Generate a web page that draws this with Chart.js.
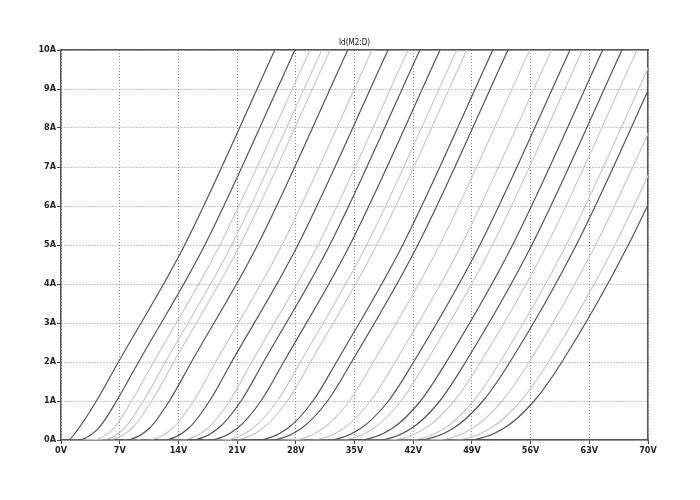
<!DOCTYPE html>
<html lang="en">
<head>
  <meta charset="UTF-8" />
  <title>Id(M2:D)</title>
  <script src="https://cdn.jsdelivr.net/npm/chart.js"></script>
  <style>
    html, body { margin: 0; padding: 0; background: #fff; }
    #wrap { width: 700px; height: 500px; }
  </style>
</head>
<body>
  <div id="wrap"><canvas id="idChart" width="700" height="500"></canvas></div>

  <script>
    const traceName = 'Id(M2:D)';
    const voltTicks = [0, 7, 14, 21, 28, 35, 42, 49, 56, 63, 70];
    const ampTicks = [0, 1, 2, 3, 4, 5, 6, 7, 8, 9, 10];

    const ampLevels = [0, 0, 0.3, 1, 2, 5, 10];
    // one row per stepped trace: volts at each of ampLevels (first = where the flat part begins)
    const traceVolts = [
      [0.0, 0.80, 2.10, 4.22, 6.85, 14.75, 25.5],
      [0.0, 1.88, 4.46, 6.62, 9.25, 17.15, 27.9],
      [1.2, 3.68, 6.26, 8.42, 11.05, 18.95, 29.7],
      [2.3, 4.82, 7.55, 9.82, 12.45, 20.35, 31.1],
      [3.0, 5.56, 8.44, 10.82, 13.45, 21.35, 32.1],
      [5.0, 7.66, 10.54, 12.92, 15.55, 23.45, 34.2],
      [7.5, 10.29, 13.31, 15.81, 18.45, 26.35, 37.1],
      [9.5, 12.19, 15.21, 17.71, 20.35, 28.25, 39.0],
      [11.5, 14.33, 17.49, 20.10, 22.75, 30.65, 41.4],
      [13.0, 15.47, 18.76, 21.47, 24.15, 32.05, 42.8],
      [15.0, 17.61, 21.02, 23.84, 26.55, 34.45, 45.2],
      [17.0, 19.34, 22.87, 25.79, 28.55, 36.45, 47.2],
      [18.0, 20.54, 24.07, 26.99, 29.75, 37.65, 48.4],
      [20.5, 23.38, 27.03, 30.04, 32.85, 40.75, 51.5],
      [22.0, 24.92, 28.68, 31.78, 34.65, 42.55, 53.3],
      [24.5, 27.52, 31.28, 34.38, 37.25, 45.15, 55.9],
      [27.0, 29.85, 33.72, 36.91, 39.85, 47.75, 58.5],
      [29.0, 31.79, 35.76, 39.04, 42.05, 49.95, 60.7],
      [30.5, 33.29, 37.26, 40.54, 43.55, 51.45, 62.2],
      [33.0, 35.43, 39.51, 42.87, 45.95, 53.85, 64.6],
      [35.0, 37.73, 41.81, 45.17, 48.25, 56.15, 66.9],
      [36.5, 39.26, 43.44, 46.89, 50.05, 57.95, 68.7],
      [39.0, 41.56, 45.74, 49.19, 52.35, 60.25, 71.0],
      [40.0, 42.50, 46.78, 50.31, 53.54, 61.45, 72.2],
      [42.0, 44.80, 49.08, 52.61, 55.84, 63.75, 74.5],
      [44.0, 46.84, 51.21, 54.82, 58.13, 66.05, 76.8],
      [45.5, 48.44, 52.81, 56.42, 59.73, 67.65, 78.4]
    ];
    const traceTone = [
      'dark', 'dark', 'light', 'light', 'light', 'dark', 'light', 'dark', 'light',
      'dark', 'dark', 'light', 'light', 'dark', 'dark', 'light', 'light', 'dark',
      'light', 'dark', 'dark', 'light', 'light', 'dark', 'light', 'light', 'dark'
    ];

    const toneColor = { dark: '#555555', light: '#c9c9c9' };
    const labelFont = { family: 'DejaVu Sans Condensed', size: 9, weight: 'bold' };

    const datasets = traceVolts.map((row, i) => ({
      data: row.map((v, k) => ({ x: v, y: ampLevels[k] })).filter((p, k) => k > 0 || row[0] < row[1]),
      borderColor: toneColor[traceTone[i]],
      borderWidth: 1.2,
      pointRadius: 0,
      fill: false,
      cubicInterpolationMode: 'monotone',
      clip: 0,
      order: traceTone[i] === 'dark' ? 0 : 1,
      parsing: false
    }));

    new Chart(document.getElementById('idChart'), {
      type: 'line',
      data: { datasets: datasets },
      options: {
        responsive: false,
        animation: false,
        events: [],
        layout: { padding: { left: 0, right: 52, top: 0, bottom: 40 } },
        plugins: { legend: { display: false }, tooltip: { enabled: false } },
        scales: {
          x: {
            type: 'linear',
            min: 0,
            max: 70,
            afterBuildTicks: s => { s.ticks = voltTicks.map(v => ({ value: v })); },
            afterFit: s => { s.height = 20; },
            grid: { color: '#8c8c8c', lineWidth: 1, tickLength: 4, tickColor: '#444' },
            border: { color: '#555', width: 1.5, dash: [1, 2] },
            ticks: {
              callback: v => v + 'V',
              color: '#222',
              font: labelFont,
              padding: 1,
              maxRotation: 0
            }
          },
          xTop: {
            type: 'linear',
            position: 'top',
            min: 0,
            max: 70,
            afterFit: s => { s.height = 50; },
            grid: { display: false },
            ticks: { display: false },
            border: { color: '#555', width: 1.5 },
            title: {
              display: true,
              text: traceName,
              color: '#111',
              font: { family: 'DejaVu Sans Condensed', size: 8 },
              padding: { top: 38, bottom: 0 }
            }
          },
          y: {
            type: 'linear',
            min: 0,
            max: 10,
            afterBuildTicks: s => { s.ticks = ampTicks.map(v => ({ value: v })); },
            afterFit: s => { s.width = 61; },
            grid: { color: '#8c8c8c', lineWidth: 1, tickLength: 4, tickColor: '#444' },
            border: { color: '#555', width: 1.5, dash: [1, 2] },
            ticks: {
              callback: v => v + 'A',
              color: '#222',
              font: labelFont,
              padding: 1
            }
          },
          yRight: {
            type: 'linear',
            position: 'right',
            min: 0,
            max: 10,
            afterFit: s => { s.width = 0; },
            grid: { display: false },
            ticks: { display: false },
            border: { color: '#555', width: 1.5 }
          }
        }
      }
    });
  </script>
</body>
</html>
